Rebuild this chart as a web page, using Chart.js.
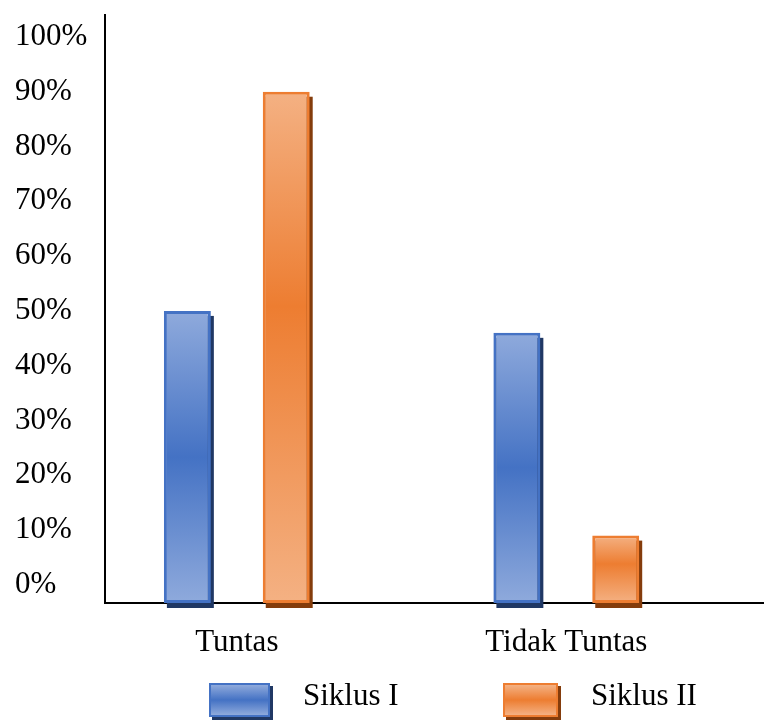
<!DOCTYPE html>
<html>
<head>
<meta charset="utf-8">
<title>Ketuntasan Belajar Siklus I dan II</title>
<script src="https://cdn.jsdelivr.net/npm/chart.js@4.4.0/dist/chart.umd.min.js"></script>
<style>
  body { margin: 0; background: #fff; }
  #wrap { position: relative; width: 764px; height: 720px; }
  .legend-box {
    position: absolute; top: 683px; height: 30px;
    border: 2px solid; box-sizing: content-box;
  }
  .legend-text {
    position: absolute; top: 679px;
    font: 31px "Liberation Serif", "Times New Roman", serif;
    line-height: 1; color: #000; white-space: nowrap;
  }
</style>
</head>
<body>
<div id="wrap">
  <canvas id="chart" width="764" height="720"></canvas>
</div>
<script>
// data
const categories = ['Tuntas', 'Tidak Tuntas'];
const seriesNames = ['Siklus I', 'Siklus II'];
const siklus1 = [50, 46];
const siklus2 = [90, 9];
const yTickValues = [0, 10, 20, 30, 40, 50, 60, 70, 80, 90, 100];

// bars hang a little below the 0% line
const BAR_BASE = -3.3;

const palette = [
  { light: '#8FAADC', dark: '#4472C4', edge: '#4472C4', shadow: '#203864', mid: 0.5 },
  { light: '#F4B183', dark: '#ED7D31', edge: '#ED7D31', shadow: '#843C0C', mid: 0.42 }
];
const labelFont = { family: '"Liberation Serif", "Times New Roman", serif', size: 31 };

// vertical light-dark-light gradient spanning each bar
function barFill(p) {
  return function(ctx) {
    const chart = ctx.chart;
    const y = chart.scales.y;
    if (!y || ctx.type !== 'data' || !ctx.parsed) return p.dark;
    const top = y.getPixelForValue(ctx.parsed.y);
    const bottom = y.getPixelForValue(BAR_BASE);
    if (!isFinite(top) || !isFinite(bottom) || top === bottom) return p.dark;
    const g = chart.ctx.createLinearGradient(0, top, 0, bottom);
    g.addColorStop(0, p.light);
    g.addColorStop(p.mid, p.dark);
    g.addColorStop(1, p.light);
    return g;
  };
}

// flat drop shadow behind each bar (right and bottom)
const barShadow = {
  id: 'barShadow',
  beforeDatasetDraw(chart, args) {
    const ctx = chart.ctx;
    const meta = chart.getDatasetMeta(args.index);
    ctx.save();
    ctx.fillStyle = palette[args.index].shadow;
    meta.data.forEach(bar => {
      const { x, y, base, width } = bar.getProps(['x', 'y', 'base', 'width'], true);
      ctx.fillRect(x - width / 2 + 3, y + 5, width, base - y);
    });
    ctx.restore();
  }
};

const seriesData = [siklus1, siklus2];

const chart = new Chart(document.getElementById('chart'), {
  type: 'bar',
  data: {
    datasets: seriesData.map((values, i) => ({
      label: seriesNames[i],
      data: values.map((v, k) => ({ x: k, y: v })),
      backgroundColor: barFill(palette[i]),
      borderColor: palette[i].edge,
      borderWidth: 3,
      borderSkipped: false,
      base: BAR_BASE,
      categoryPercentage: 0.6,
      barPercentage: 0.475
    }))
  },
  options: {
    responsive: false,
    animation: false,
    devicePixelRatio: 1,
    layout: { padding: { left: 15, top: 15, right: 0, bottom: 60 } },
    plugins: {
      legend: { display: false },
      tooltip: { enabled: false }
    },
    scales: {
      x: {
        type: 'linear',
        min: -0.4,
        max: 1.6,
        offset: false,
        grid: { display: false, drawTicks: false },
        border: { display: true, color: '#000', width: 2 },
        ticks: {
          font: labelFont,
          color: '#000',
          padding: 21,
          maxRotation: 0,
          autoSkip: false,
          callback: v => categories[v] !== undefined ? categories[v] : ''
        },
        afterBuildTicks: s => { s.ticks = categories.map((_, i) => ({ value: i })); },
        afterFit: s => { s.paddingLeft = 0; s.paddingRight = 0; s.height = 57; }
      },
      y: {
        min: BAR_BASE,
        max: 104,
        grid: { display: false, drawTicks: false },
        border: { display: true, color: '#000', width: 2 },
        ticks: {
          font: labelFont,
          color: '#000',
          crossAlign: 'far',
          callback: v => v + '%'
        },
        afterBuildTicks: s => { s.ticks = yTickValues.map(v => ({ value: v })); },
        afterFit: s => { s.width = 90; s.paddingTop = 0; s.paddingBottom = 0; }
      }
    }
  },
  plugins: [barShadow]
});

// legend below the axis
const wrap = document.getElementById('wrap');
const legendPos = [
  { box: 209, width: 57, text: 303 },
  { box: 503, width: 51, text: 591 }
];
seriesNames.forEach((name, i) => {
  const p = palette[i];
  const box = document.createElement('div');
  box.className = 'legend-box';
  box.style.left = legendPos[i].box + 'px';
  box.style.width = legendPos[i].width + 'px';
  box.style.borderColor = p.edge;
  box.style.background = `linear-gradient(${p.light}, ${p.dark} 50%, ${p.light})`;
  box.style.boxShadow = `3px 3px 0 ${p.shadow}`;
  wrap.appendChild(box);
  const txt = document.createElement('span');
  txt.className = 'legend-text';
  txt.style.left = legendPos[i].text + 'px';
  txt.textContent = name;
  wrap.appendChild(txt);
});
</script>
</body>
</html>
